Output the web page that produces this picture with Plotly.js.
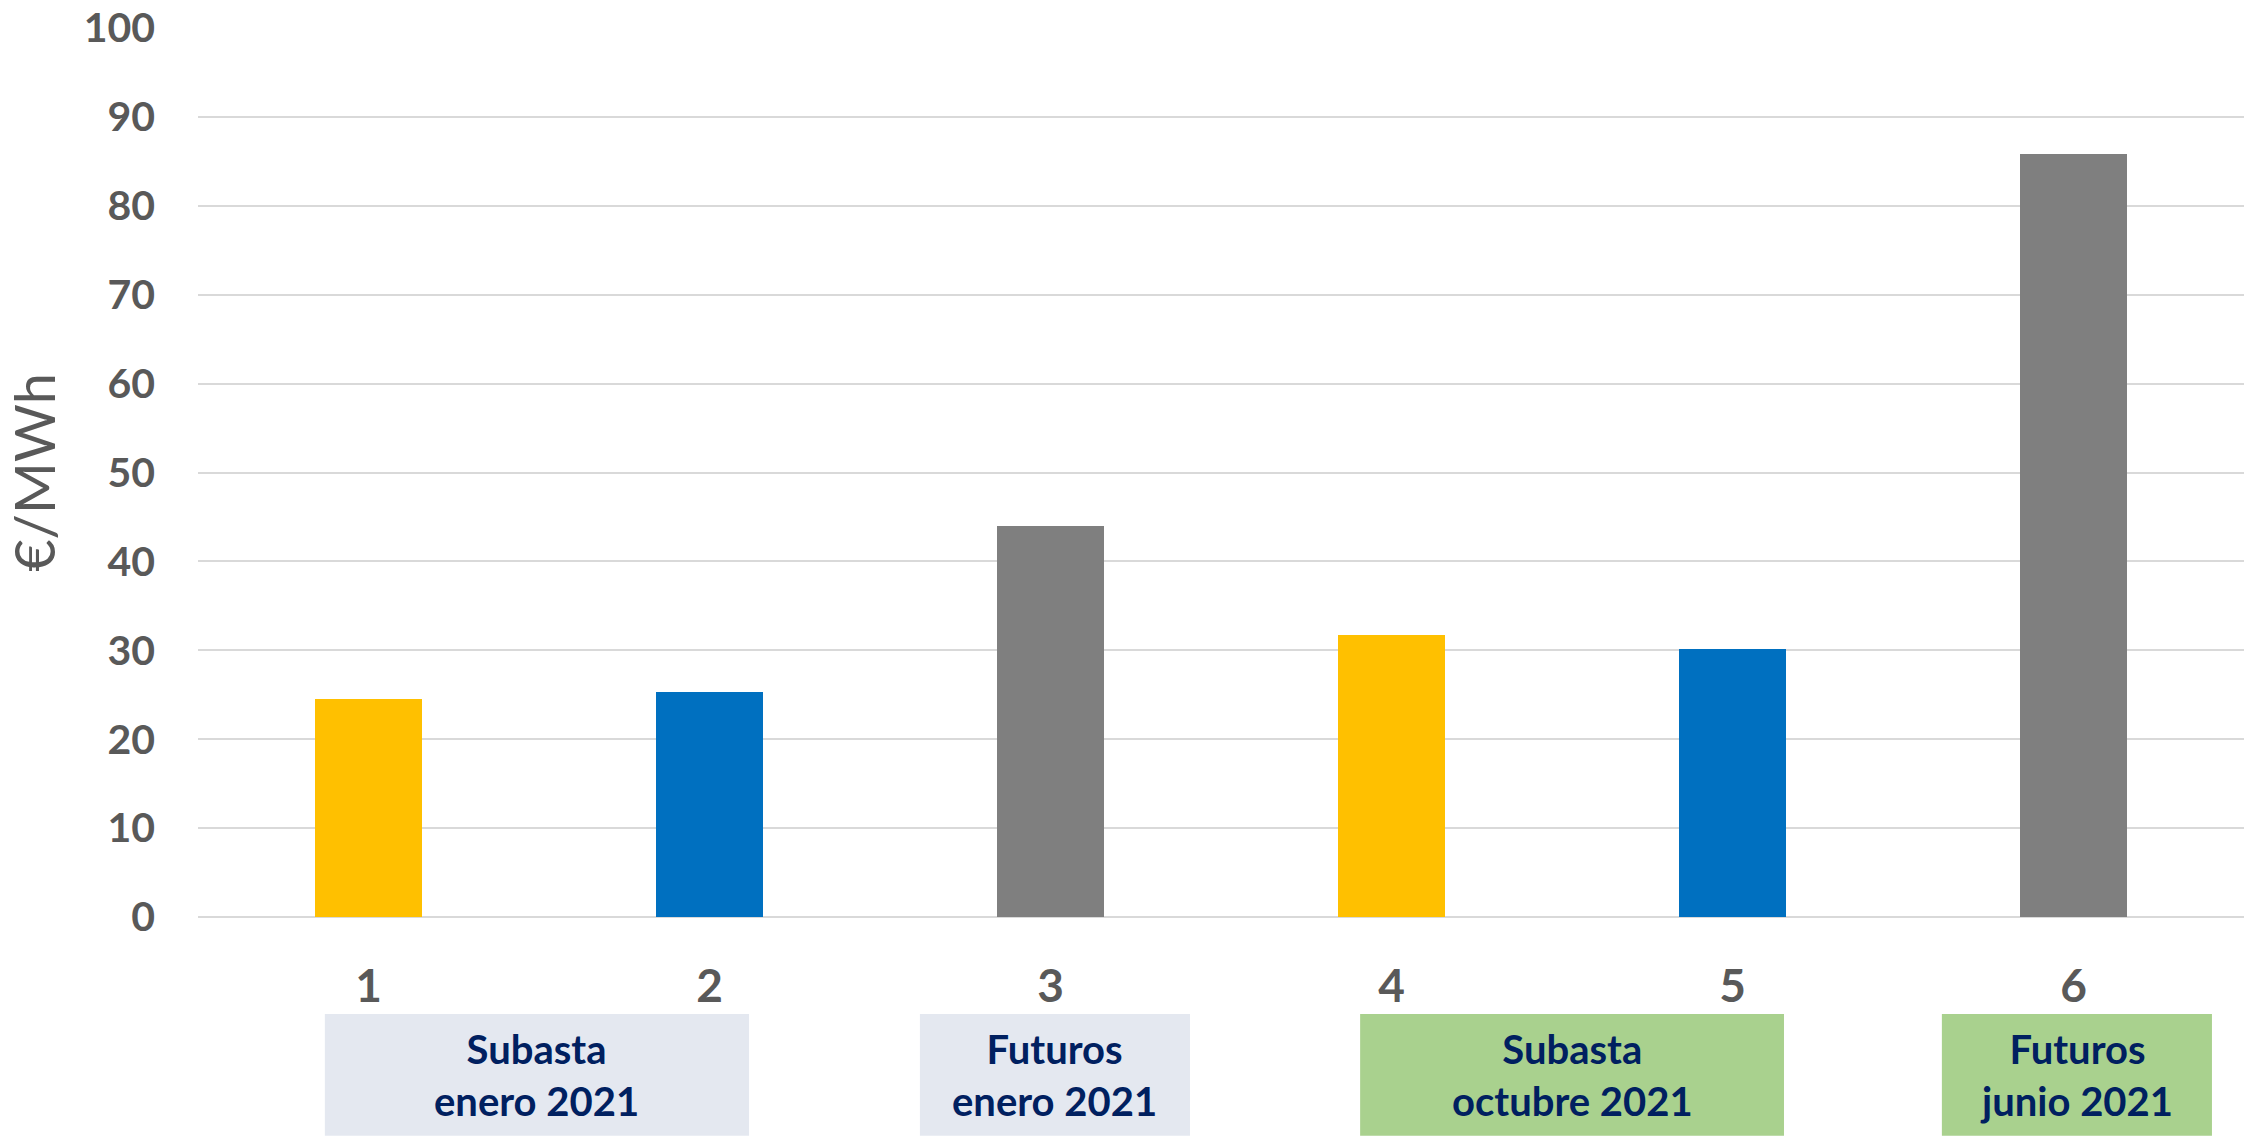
<!DOCTYPE html>
<html>
<head>
<meta charset="utf-8">
<script src="https://cdn.plot.ly/plotly-3.0.1.min.js"></script>
<style>html,body{margin:0;padding:0;background:#fff;}#chart{width:2254px;height:1138px;}</style>
</head>
<body>
<div id="chart"></div>
<script>
// ---- data ----
const categories = [1, 2, 3, 4, 5, 6];
const tickLabels = ['1', '2', '3', '4', '5', '6'];
const values = [24.5, 25.3, 44.0, 31.7, 30.2, 85.8];
const yTicks = [0, 10, 20, 30, 40, 50, 60, 70, 80, 90, 100];
const yTitle = '€/MWh';
const groupLabels = ['Subasta<br>enero 2021', 'Futuros<br>enero 2021', 'Subasta<br>octubre 2021', 'Futuros<br>junio 2021'];
const groupFirst = [1, 3, 4, 6];
const groupLast = [2, 3, 5, 6];

// ---- styles ----
const barPalette = ['#FFC000', '#0070C0', '#7F7F7F', '#FFC000', '#0070C0', '#7F7F7F'];
const groupPalette = ['#E4E8F0', '#E4E8F0', '#A9D18E', '#A9D18E'];
const groupPadL = [0.128, 0.383, 0.092, 0.386];
const groupPadR = [0.116, 0.409, 0.151, 0.406];
const FONT = 'Lato, "Open Sans", sans-serif';
const GREY = '#595959';
const NAVY = '#002060';

const shapes = [];
const annotations = [];
groupLabels.forEach((lab, i) => {
  const x0 = groupFirst[i] - groupPadL[i];
  const x1 = groupLast[i] + groupPadR[i];
  shapes.push({
    type: 'rect', xref: 'x', yref: 'paper',
    x0: x0, x1: x1, y0: -0.246, y1: -0.109,
    fillcolor: groupPalette[i], line: {width: 0}, layer: 'below'
  });
  annotations.push({
    xref: 'x', yref: 'paper', x: (x0 + x1) / 2, y: -0.1775,
    xanchor: 'center', yanchor: 'middle', showarrow: false,
    text: '<b>' + lab + '</b>',
    font: {family: FONT, size: 40, color: NAVY}
  });
});

const trace = {
  type: 'bar',
  x: categories,
  y: values,
  width: 0.314,
  marker: {color: barPalette, line: {width: 0}},
  hoverinfo: 'x+y'
};

const layout = {
  width: 2254, height: 1138,
  margin: {l: 198, r: 10, t: 28, b: 221},
  paper_bgcolor: '#ffffff', plot_bgcolor: '#ffffff',
  showlegend: false,
  bargap: 0,
  xaxis: {
    type: 'linear', range: [0.5, 6.5],
    tickvals: categories, ticktext: tickLabels,
    showgrid: false, zeroline: false, showline: false,
    ticks: '', ticklabelstandoff: 38,
    tickfont: {family: FONT, size: 46, color: GREY, weight: 'bold'},
    fixedrange: true
  },
  yaxis: {
    range: [0, 100], tickvals: yTicks,
    showgrid: true, gridcolor: '#D9D9D9', gridwidth: 2,
    zeroline: true, zerolinecolor: '#D9D9D9', zerolinewidth: 2,
    showline: false, ticks: '', ticklabelstandoff: 42,
    tickfont: {family: FONT, size: 41, color: GREY, weight: 'bold'},
    title: {text: yTitle, standoff: 12, font: {family: FONT, size: 56, color: GREY}},
    automargin: false, fixedrange: true
  },
  shapes: shapes,
  annotations: annotations
};

Plotly.newPlot('chart', [trace], layout, {displayModeBar: false, staticPlot: true});
</script>
</body>
</html>
